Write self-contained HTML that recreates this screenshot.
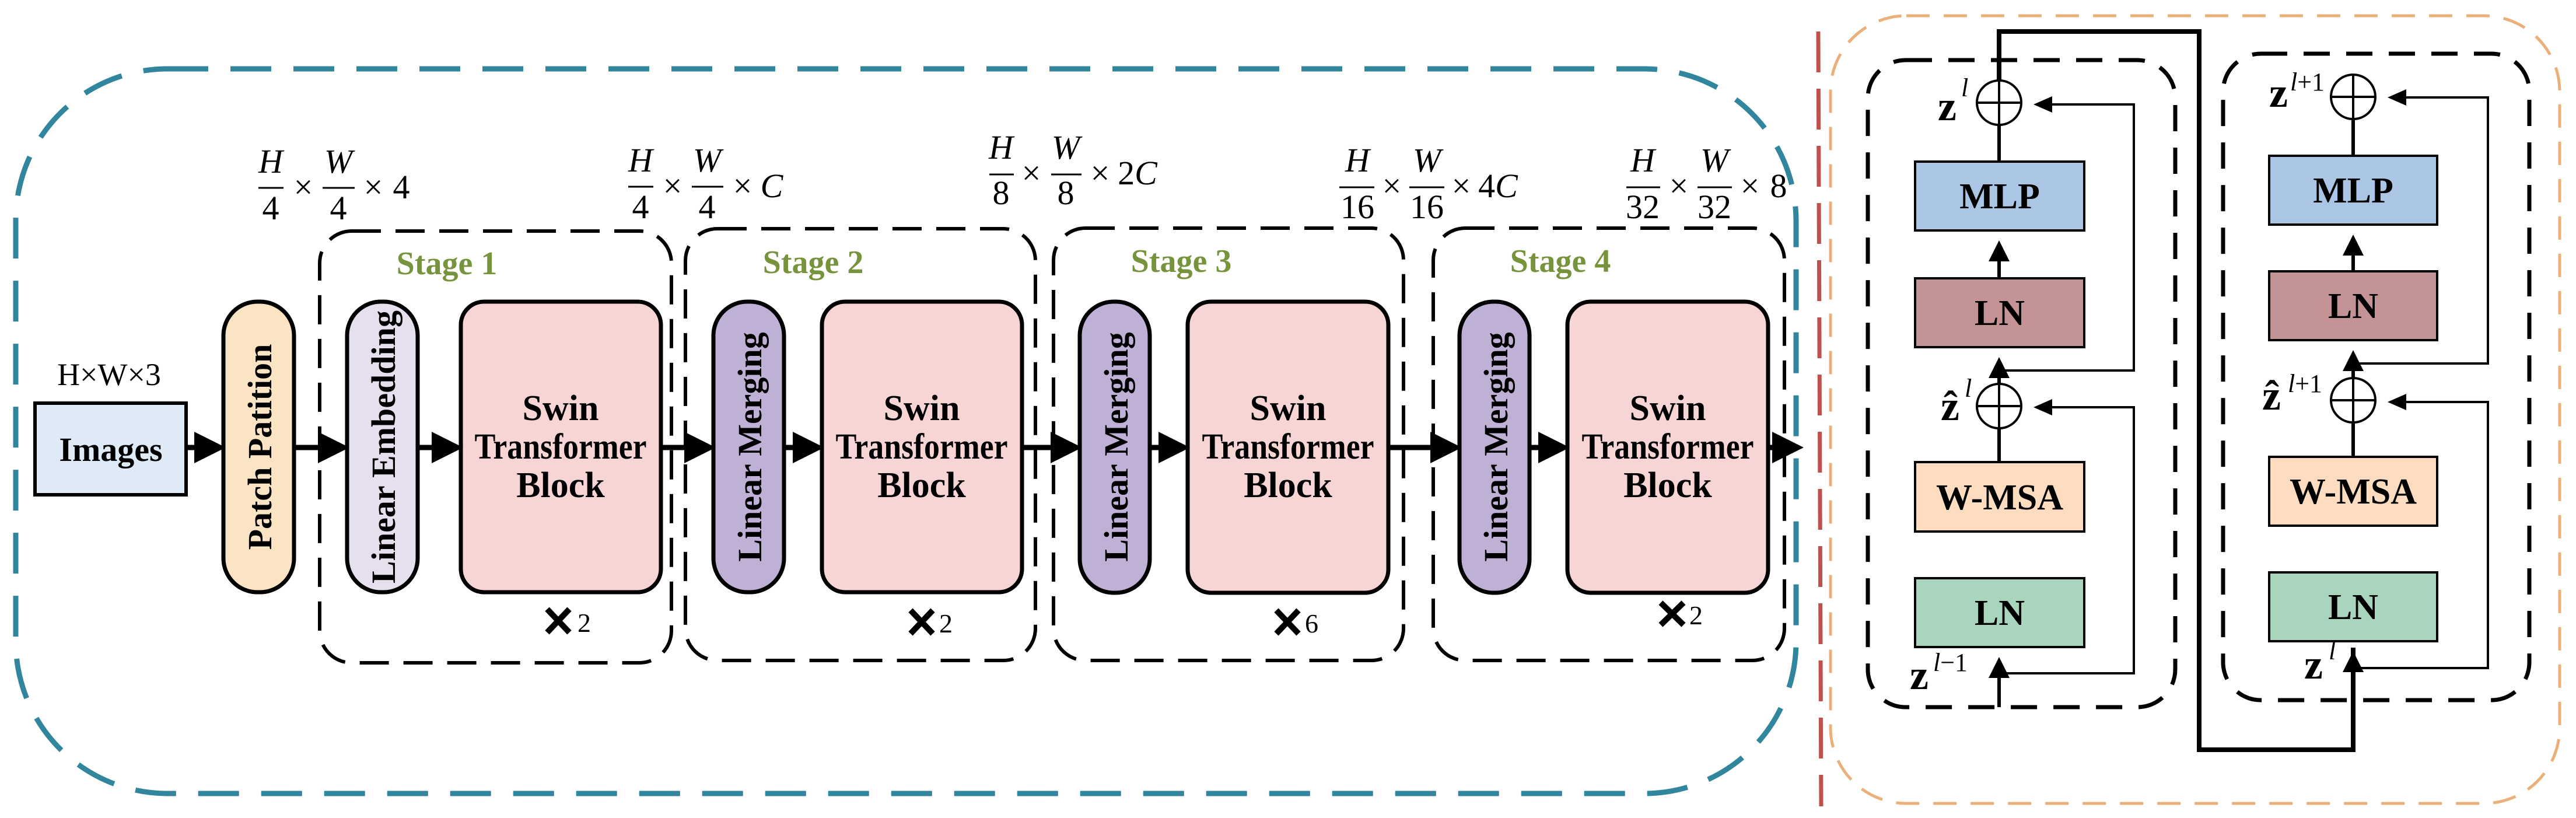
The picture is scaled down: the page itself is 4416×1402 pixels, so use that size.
<!DOCTYPE html>
<html><head><meta charset="utf-8"><style>
html,body{margin:0;padding:0;background:#fff;}
svg{display:block;}
text{font-family:"Liberation Serif",serif;}
.b{font-weight:bold;}
.m{font-family:"Liberation Serif",serif;font-size:58px;}
</style></head><body>
<svg width="4416" height="1402" viewBox="0 0 4416 1402" xmlns="http://www.w3.org/2000/svg">
<defs>
<marker id="ah" markerWidth="6" markerHeight="6" refX="5" refY="3" orient="auto" markerUnits="strokeWidth"><path d="M0,0 L6,3 L0,6 z" fill="#000"/></marker>
<marker id="sh" markerWidth="8" markerHeight="8" refX="7" refY="4" orient="auto" markerUnits="strokeWidth"><path d="M0,0.5 L8,4 L0,7.5 z" fill="#000"/></marker>
</defs>
<rect x="27" y="118" width="3052" height="1242" rx="260" ry="260" fill="none" stroke="#31859c" stroke-width="9" stroke-dasharray="70 38"/>
<line x1="3117" y1="54" x2="3122" y2="1382" stroke="#c0504d" stroke-width="7" stroke-dasharray="70 28"/>
<rect x="3138" y="27" width="1250" height="1350" rx="130" ry="130" fill="none" stroke="#ebb07a" stroke-width="5" stroke-dasharray="40 24"/>

<g fill="none" stroke="#000" stroke-width="6" stroke-dasharray="50 25">
<rect x="548" y="396" width="603" height="740" rx="55"/>
<rect x="1175" y="392" width="600" height="740" rx="55"/>
<rect x="1806" y="391" width="600" height="741" rx="55"/>
<rect x="2457" y="391" width="602" height="741" rx="55"/>
</g>
<g class="b" fill="#77933c" font-size="56" text-anchor="middle">
<text x="766" y="470">Stage 1</text>
<text x="1394" y="468">Stage 2</text>
<text x="2025" y="466">Stage 3</text>
<text x="2675" y="466">Stage 4</text>
</g>

<text x="187" y="660" font-size="54" text-anchor="middle">H×W×3</text>
<rect x="60" y="691" width="259" height="157" fill="#deebf7" stroke="#000" stroke-width="6"/>
<text x="190" y="790" class="b" font-size="58" text-anchor="middle">Images</text>

<g stroke="#000" stroke-width="7">
<rect x="383" y="517" width="121" height="498" rx="58" fill="#fbe4c3"/>
<rect x="595" y="517" width="121" height="498" rx="58" fill="#e5dfee"/>
<rect x="1223" y="517" width="121" height="498" rx="58" fill="#bfb1d6"/>
<rect x="1851" y="517" width="120" height="499" rx="58" fill="#bfb1d6"/>
<rect x="2502" y="517" width="120" height="499" rx="58" fill="#bfb1d6"/>
<rect x="790" y="517" width="343" height="498" rx="40" fill="#f8d5d5"/>
<rect x="1409" y="517" width="343" height="498" rx="40" fill="#f8d5d5"/>
<rect x="2036" y="517" width="344" height="499" rx="40" fill="#f8d5d5"/>
<rect x="2687" y="517" width="344" height="499" rx="40" fill="#f8d5d5"/>
</g>
<g class="b" font-size="58" text-anchor="middle">
<text transform="translate(465,766) rotate(-90)">Patch Patition</text>
<text transform="translate(677,766) rotate(-90)">Linear Embedding</text>
<text transform="translate(1305,766) rotate(-90)">Linear Merging</text>
<text transform="translate(1933,766) rotate(-90)">Linear Merging</text>
<text transform="translate(2584,766) rotate(-90)">Linear Merging</text>
</g>
<g class="b" font-size="62" text-anchor="middle">
<text x="961" y="720">Swin</text><text x="961" y="786" textLength="295" lengthAdjust="spacingAndGlyphs">Transformer</text><text x="961" y="852">Block</text>
<text x="1580" y="720">Swin</text><text x="1580" y="786" textLength="295" lengthAdjust="spacingAndGlyphs">Transformer</text><text x="1580" y="852">Block</text>
<text x="2208" y="720">Swin</text><text x="2208" y="786" textLength="295" lengthAdjust="spacingAndGlyphs">Transformer</text><text x="2208" y="852">Block</text>
<text x="2859" y="720">Swin</text><text x="2859" y="786" textLength="295" lengthAdjust="spacingAndGlyphs">Transformer</text><text x="2859" y="852">Block</text>
</g>
<g stroke="#000" stroke-width="10">
<path d="M938,1044 L976,1084 M976,1044 L938,1084"/>
<path d="M1561,1046 L1599,1086 M1599,1046 L1561,1086"/>
<path d="M2188,1046 L2226,1086 M2226,1046 L2188,1086"/>
<path d="M2847,1033 L2886,1071 M2886,1033 L2847,1071"/>
</g>
<g font-size="46">
<text x="990" y="1083">2</text><text x="1610" y="1084">2</text><text x="2237" y="1084">6</text><text x="2896" y="1070">2</text>
</g>

<g stroke="#000" stroke-width="9" marker-end="url(#ah)">
<line x1="319" y1="767" x2="378" y2="767"/>
<line x1="504" y1="767" x2="590" y2="767"/>
<line x1="716" y1="767" x2="785" y2="767"/>
<line x1="1133" y1="767" x2="1218" y2="767"/>
<line x1="1344" y1="767" x2="1404" y2="767"/>
<line x1="1752" y1="767" x2="1846" y2="767"/>
<line x1="1971" y1="767" x2="2031" y2="767"/>
<line x1="2380" y1="767" x2="2497" y2="767"/>
<line x1="2622" y1="767" x2="2682" y2="767"/>
<line x1="3031" y1="767" x2="3083" y2="767"/>
</g>

<g class="m" text-anchor="middle" stroke="none">
<text x="464" y="296" font-style="italic">H</text><text x="464" y="376">4</text>
<line x1="443" y1="322" x2="486" y2="322" stroke="#000" stroke-width="3"/>
<text x="520" y="340">×</text>
<text x="580" y="296" font-style="italic">W</text><text x="580" y="376">4</text>
<line x1="553" y1="322" x2="608" y2="322" stroke="#000" stroke-width="3"/>
<text x="640" y="340">×</text><text x="688" y="340">4</text>
<text x="1098" y="294" font-style="italic">H</text><text x="1098" y="374">4</text>
<line x1="1077" y1="320" x2="1120" y2="320" stroke="#000" stroke-width="3"/>
<text x="1153" y="338">×</text>
<text x="1212" y="294" font-style="italic">W</text><text x="1212" y="374">4</text>
<line x1="1186" y1="320" x2="1240" y2="320" stroke="#000" stroke-width="3"/>
<text x="1273" y="338">×</text><text x="1323" y="338" font-style="italic">C</text>
<text x="1716" y="272" font-style="italic">H</text><text x="1716" y="350">8</text>
<line x1="1696" y1="299" x2="1738" y2="299" stroke="#000" stroke-width="3"/>
<text x="1768" y="316">×</text>
<text x="1827" y="272" font-style="italic">W</text><text x="1827" y="350">8</text>
<line x1="1802" y1="299" x2="1854" y2="299" stroke="#000" stroke-width="3"/>
<text x="1886" y="316">×</text><text x="1950" y="316">2<tspan font-style="italic">C</tspan></text>
<text x="2327" y="294" font-style="italic">H</text><text x="2327" y="374">16</text>
<line x1="2296" y1="321" x2="2356" y2="321" stroke="#000" stroke-width="3"/>
<text x="2386" y="338">×</text>
<text x="2446" y="294" font-style="italic">W</text><text x="2446" y="374">16</text>
<line x1="2416" y1="321" x2="2476" y2="321" stroke="#000" stroke-width="3"/>
<text x="2505" y="338">×</text><text x="2568" y="338">4<tspan font-style="italic">C</tspan></text>
<text x="2816" y="294" font-style="italic">H</text><text x="2816" y="374">32</text>
<line x1="2788" y1="321" x2="2846" y2="321" stroke="#000" stroke-width="3"/>
<text x="2878" y="338">×</text>
<text x="2939" y="294" font-style="italic">W</text><text x="2939" y="374">32</text>
<line x1="2910" y1="321" x2="2969" y2="321" stroke="#000" stroke-width="3"/>
<text x="3000" y="338">×</text><text x="3049" y="338">8</text>
</g>

<g fill="none" stroke="#000" stroke-width="7" stroke-dasharray="45 28">
<rect x="3202" y="103" width="527" height="1109" rx="65"/>
<rect x="3811" y="92" width="525" height="1108" rx="65"/>
</g>
<polyline points="3427,140 3427,54 3770,54 3770,1285 4034,1285 4034,1110" fill="none" stroke="#000" stroke-width="8"/>

<g stroke="#000" stroke-width="4">
<rect x="3283" y="277" width="290" height="118" fill="#abc6e4"/>
<rect x="3283" y="477" width="290" height="118" fill="#c49396"/>
<rect x="3283" y="792" width="290" height="119" fill="#fddcbf"/>
<rect x="3283" y="991" width="290" height="118" fill="#a8d5bc"/>
<rect x="3890" y="267" width="288" height="118" fill="#abc6e4"/>
<rect x="3890" y="465" width="288" height="118" fill="#c49396"/>
<rect x="3890" y="783" width="288" height="118" fill="#fddcbf"/>
<rect x="3890" y="981" width="288" height="118" fill="#a8d5bc"/>
</g>
<g class="b" font-size="62" text-anchor="middle">
<text x="3428" y="357">MLP</text><text x="3428" y="557">LN</text><text x="3428" y="873">W-MSA</text><text x="3428" y="1071">LN</text>
<text x="4034" y="347">MLP</text><text x="4034" y="545">LN</text><text x="4034" y="863">W-MSA</text><text x="4034" y="1061">LN</text>
</g>
<g stroke="#000" stroke-width="4" fill="none">
<circle cx="3427" cy="176" r="38"/><line x1="3389" y1="176" x2="3465" y2="176"/><line x1="3427" y1="138" x2="3427" y2="214"/>
<circle cx="3427" cy="696" r="38"/><line x1="3389" y1="696" x2="3465" y2="696"/><line x1="3427" y1="658" x2="3427" y2="734"/>
<circle cx="4034" cy="166" r="38"/><line x1="3996" y1="166" x2="4072" y2="166"/><line x1="4034" y1="128" x2="4034" y2="204"/>
<circle cx="4034" cy="686" r="38"/><line x1="3996" y1="686" x2="4072" y2="686"/><line x1="4034" y1="648" x2="4034" y2="724"/>
<polyline points="3427,635 3658,635 3658,179 3490,179" marker-end="url(#sh)"/>
<polyline points="3427,1154 3658,1154 3658,698 3490,698" marker-end="url(#sh)"/>
<polyline points="4034,623 4265,623 4265,167 4097,167" marker-end="url(#sh)"/>
<polyline points="4034,1145 4265,1145 4265,689 4097,689" marker-end="url(#sh)"/>
</g>
<g stroke="#000" stroke-width="6" fill="none">
<line x1="3427" y1="214" x2="3427" y2="277"/>
<line x1="3427" y1="477" x2="3427" y2="418" marker-end="url(#ah)"/>
<line x1="3427" y1="658" x2="3427" y2="618" marker-end="url(#ah)"/>
<line x1="3427" y1="792" x2="3427" y2="734"/>
<line x1="3427" y1="1212" x2="3427" y2="1132" marker-end="url(#ah)"/>
<line x1="4034" y1="204" x2="4034" y2="267"/>
<line x1="4034" y1="465" x2="4034" y2="408" marker-end="url(#ah)"/>
<line x1="4034" y1="648" x2="4034" y2="606" marker-end="url(#ah)"/>
<line x1="4034" y1="783" x2="4034" y2="724"/>
<line x1="4034" y1="1200" x2="4034" y2="1122" marker-end="url(#ah)"/>
</g>
<g class="b" font-size="72">
<text x="3322" y="206">z</text><text x="3362" y="165" font-size="44" font-style="italic" font-weight="normal">l</text>
<text x="3327" y="720">ẑ</text><text x="3368" y="680" font-size="44" font-style="italic" font-weight="normal">l</text>
<text x="3274" y="1181">z</text><text x="3314" y="1150" font-size="44" font-weight="normal"><tspan font-style="italic">l</tspan>−1</text>
<text x="3890" y="183">z</text><text x="3926" y="155" font-size="44" font-weight="normal"><tspan font-style="italic">l</tspan>+1</text>
<text x="3878" y="702">ẑ</text><text x="3922" y="672" font-size="44" font-weight="normal"><tspan font-style="italic">l</tspan>+1</text>
<text x="3950" y="1163">z</text><text x="3992" y="1130" font-size="44" font-style="italic" font-weight="normal">l</text>
</g>
</svg>
</body></html>
